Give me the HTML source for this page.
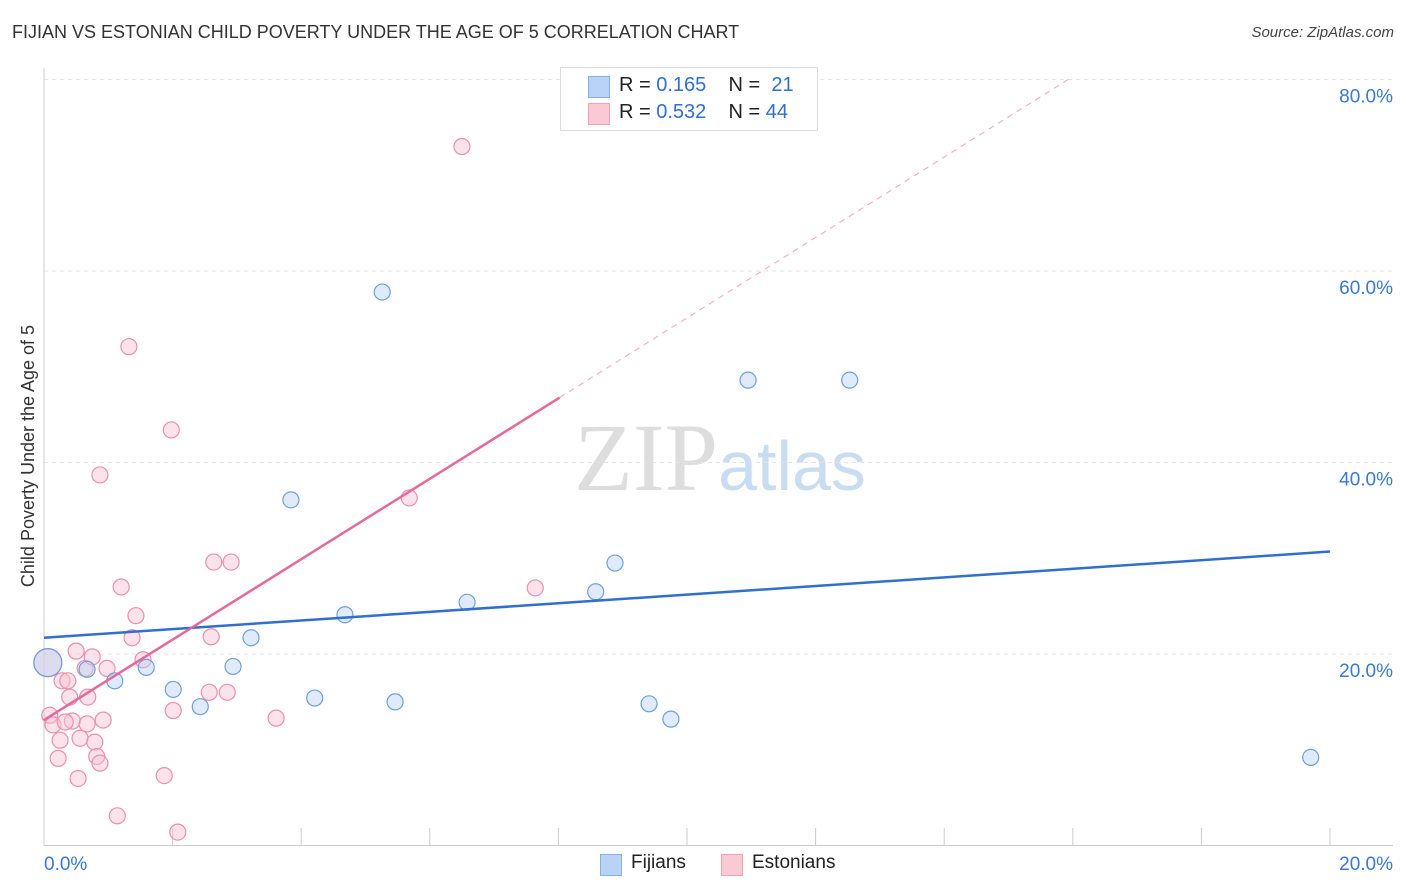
<!DOCTYPE html>
<html><head><meta charset="utf-8"><style>
body{margin:0;background:#fff;font-family:"Liberation Sans",sans-serif}
#wrap{position:relative;width:1406px;height:892px;overflow:hidden}
.t{position:absolute;white-space:nowrap}
</style></head><body>
<div id="wrap">
<div class="t" style="left:12px;top:22px;font-size:18px;color:#333">FIJIAN VS ESTONIAN CHILD POVERTY UNDER THE AGE OF 5 CORRELATION CHART</div>
<div class="t" style="right:12px;top:24px;font-size:15px;color:#444;font-style:italic">Source: ZipAtlas.com</div>
<svg id="svg" width="1406" height="892" style="position:absolute;left:0;top:0">
<text x="720" y="490" text-anchor="middle" font-family="Liberation Serif" font-size="96" fill="#ddd">ZIP<tspan font-family="Liberation Sans" font-size="70" fill="#c8dcf2">atlas</tspan></text>
</svg>
<div style="position:absolute;left:560px;top:67px;width:256px;height:62px;border:1px solid #ddd;background:#fff;font-size:20px;color:#222">
 <div style="position:absolute;left:27px;top:8px;width:20px;height:20px;background:#b8d3f5;border:1px solid #8ab0e0"></div>
 <div class="t" style="left:58px;top:6px">R = <span style="color:#2f6fd0">0.165</span>&nbsp;&nbsp;&nbsp; N = &nbsp;<span style="color:#2f6fd0">21</span></div>
 <div style="position:absolute;left:27px;top:35px;width:20px;height:20px;background:#f9c9d6;border:1px solid #eea0b5"></div>
 <div class="t" style="left:58px;top:33px">R = <span style="color:#2f6fd0">0.532</span>&nbsp;&nbsp;&nbsp; N = <span style="color:#2f6fd0">44</span></div>
</div>
<div style="position:absolute;left:600px;top:852px;font-size:19px;color:#222">
 <div style="position:absolute;left:0;top:2px;width:20px;height:20px;background:#b8d3f5;border:1px solid #8ab0e0"></div>
 <div class="t" style="left:31px;top:0">Fijians</div>
 <div style="position:absolute;left:121px;top:2px;width:20px;height:20px;background:#f9c9d6;border:1px solid #eea0b5"></div>
 <div class="t" style="left:152px;top:0">Estonians</div>
</div>
</div>
<script>
const blueX=[0.06,0.67,1.10,1.59,2.01,2.43,2.94,3.22,3.84,4.21,4.68,5.26,5.46,6.58,8.58,8.88,9.41,9.75,10.95,12.53,19.70];
const blueY=[19.1,18.4,17.2,18.6,16.3,14.5,18.7,21.7,36.1,15.4,24.1,57.8,15.0,25.4,26.5,29.5,14.8,13.2,48.6,48.6,9.2];
const pinkX=[0.06,0.09,0.14,0.22,0.28,0.37,0.40,0.44,0.50,0.56,0.53,0.64,0.68,0.67,0.75,0.79,0.82,0.87,0.87,0.92,0.98,1.14,1.20,1.32,1.37,1.43,1.54,1.87,1.98,2.01,2.08,2.57,2.60,2.64,2.85,2.91,3.61,5.68,6.50,7.64,0.25,0.33];
const pinkY=[19.1,13.6,12.6,9.1,17.2,17.2,15.5,13.0,20.3,11.2,7.0,18.5,15.5,12.7,19.7,10.8,9.3,8.6,38.7,13.1,18.5,3.1,27.0,52.1,21.7,24.0,19.4,7.3,43.4,14.1,1.4,16.0,21.8,29.6,16.0,29.6,13.3,36.3,73.0,26.9,11.0,12.9];
const yTicks=[20,40,60,80];
const yTickLabels=["20.0%","40.0%","60.0%","80.0%"];
const blueTrend=[21.7,30.7];
const pinkTrend=[13.1,4.2];
const sx=v=>44+v*64.3, sy=v=>845.5-v*9.575;
const svg=document.getElementById('svg'),NS='http://www.w3.org/2000/svg';
function mk(t,a,p){const e=document.createElementNS(NS,t);for(const k in a)e.setAttribute(k,a[k]);(p||svg).appendChild(e);return e;}
yTicks.forEach((v,i)=>{
 const g=mk('line',{x1:44,x2:1393,y1:sy(v),y2:sy(v),stroke:'#e3e3e3','stroke-dasharray':'4,4'});
 
 
 const t=mk('text',{x:1393,y:sy(v)+23,'text-anchor':'end','font-size':19,fill:'#3a78d4'});t.textContent=yTickLabels[i];
 
 
});
const ax=mk('line',{x1:44,x2:1393,y1:845.5,y2:845.5,stroke:'#ccc'});


const ay=mk('line',{x1:44,x2:44,y1:68,y2:845.5,stroke:'#ccc'});


for(let i=0;i<=10;i++){const tk=mk('line',{x1:sx(i*2),x2:sx(i*2),y1:828,y2:845.5,stroke:'#ccc'});
 
 }
[["0.0%",44,'start'],["20.0%",1393,'end']].forEach(a=>{const t=mk('text',{x:a[1],y:870,'text-anchor':a[2],'font-size':19,fill:'#3a78d4'});t.textContent=a[0];
 
 });
const yt=mk('text',{x:34,y:456,transform:'rotate(-90 34 456)','text-anchor':'middle','font-size':18,fill:'#333'});yt.textContent='Child Poverty Under the Age of 5';


function pts(X,Y,fill,stroke,name){X.forEach((x,i)=>{const c=mk('circle',{cx:sx(x),cy:sy(Y[i]),r:i==0?14:8,fill:fill,'fill-opacity':0.45,stroke:stroke,'stroke-width':1.2});
 
 });}
pts(pinkX,pinkY,'#f9c2d2','#ec8fab','estonian-point');
pts(blueX,blueY,'#b8d3f5','#6e9fdc','fijian-point');
const bl=mk('line',{x1:sx(0),y1:sy(blueTrend[0]),x2:sx(20),y2:sy(blueTrend[1]),stroke:'#2f6fd0','stroke-width':2.5});


const pEnd=(80-pinkTrend[0])/pinkTrend[1];
const pd=mk('line',{x1:sx(8.02),y1:sy(pinkTrend[0]+pinkTrend[1]*8.02),x2:sx(pEnd),y2:sy(80),stroke:'#eeb3c5','stroke-width':1.2,'stroke-dasharray':'6,5'});


const pl=mk('line',{x1:sx(0),y1:sy(pinkTrend[0]),x2:sx(8.02),y2:sy(pinkTrend[0]+pinkTrend[1]*8.02),stroke:'#e7689a','stroke-width':2.5});


</script>
</body></html>
